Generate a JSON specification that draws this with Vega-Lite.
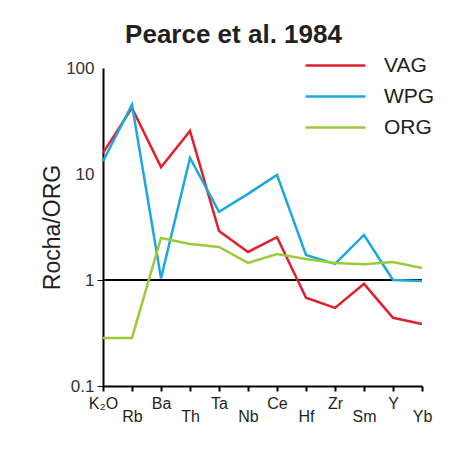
{
  "$schema": "https://vega.github.io/schema/vega-lite/v6.json",
  "width": 319,
  "height": 318,
  "autosize": "none",
  "padding": {"left": 103, "top": 68, "right": 39, "bottom": 63},
  "background": "white",
  "title": {"text": "Pearce et al. 1984", "font": "Liberation Sans", "fontSize": 26, "fontWeight": "bold", "color": "#231f20", "anchor": "middle", "frame": "group", "dx": -29, "offset": 26, "dy": 20},
  "config": {"view": {"stroke": null}, "font": "Liberation Sans"},
  "data": {"values": [
    {"el": "K2O", "g": "VAG", "v": 15.8}, {"el": "Rb", "g": "VAG", "v": 42}, {"el": "Ba", "g": "VAG", "v": 11.6}, {"el": "Th", "g": "VAG", "v": 25.5}, {"el": "Ta", "g": "VAG", "v": 2.9}, {"el": "Nb", "g": "VAG", "v": 1.84}, {"el": "Ce", "g": "VAG", "v": 2.54}, {"el": "Hf", "g": "VAG", "v": 0.68}, {"el": "Zr", "g": "VAG", "v": 0.545}, {"el": "Sm", "g": "VAG", "v": 0.92}, {"el": "Y", "g": "VAG", "v": 0.44}, {"el": "Yb", "g": "VAG", "v": 0.385},
    {"el": "K2O", "g": "WPG", "v": 13.2}, {"el": "Rb", "g": "WPG", "v": 45}, {"el": "Ba", "g": "WPG", "v": 1.04}, {"el": "Th", "g": "WPG", "v": 14.2}, {"el": "Ta", "g": "WPG", "v": 4.4}, {"el": "Nb", "g": "WPG", "v": 6.5}, {"el": "Ce", "g": "WPG", "v": 9.8}, {"el": "Hf", "g": "WPG", "v": 1.72}, {"el": "Zr", "g": "WPG", "v": 1.42}, {"el": "Sm", "g": "WPG", "v": 2.66}, {"el": "Y", "g": "WPG", "v": 1.0}, {"el": "Yb", "g": "WPG", "v": 0.98},
    {"el": "K2O", "g": "ORG", "v": 0.284}, {"el": "Rb", "g": "ORG", "v": 0.284}, {"el": "Ba", "g": "ORG", "v": 2.49}, {"el": "Th", "g": "ORG", "v": 2.19}, {"el": "Ta", "g": "ORG", "v": 2.05}, {"el": "Nb", "g": "ORG", "v": 1.45}, {"el": "Ce", "g": "ORG", "v": 1.76}, {"el": "Hf", "g": "ORG", "v": 1.58}, {"el": "Zr", "g": "ORG", "v": 1.45}, {"el": "Sm", "g": "ORG", "v": 1.41}, {"el": "Y", "g": "ORG", "v": 1.48}, {"el": "Yb", "g": "ORG", "v": 1.3}
  ]},
  "layer": [
    {
      "mark": {"type": "rule", "color": "black", "strokeWidth": 1},
      "encoding": {"y": {"datum": 1, "type": "quantitative"}}
    },
    {
      "mark": {"type": "line", "strokeWidth": 2.5},
      "encoding": {
        "x": {
          "field": "el", "type": "ordinal",
          "sort": ["K2O", "Rb", "Ba", "Th", "Ta", "Nb", "Ce", "Hf", "Zr", "Sm", "Y", "Yb"],
          "scale": {"type": "point", "padding": 0},
          "axis": {
            "title": null, "labelAngle": 0, "domainColor": "black", "domainWidth": 2,
            "tickColor": "black", "tickWidth": 2, "tickSize": 5,
            "labelFont": "Liberation Sans", "labelFontSize": 16, "labelColor": "#231f20",
            "labelPadding": {"expr": "indexof(['Rb','Th','Nb','Hf','Sm','Yb'], datum.value) >= 0 ? 17 : 4"},
            "labelExpr": "datum.value == 'K2O' ? 'K₂O' : datum.value"
          }
        },
        "y": {
          "field": "v", "type": "quantitative",
          "scale": {"type": "log", "domain": [0.1, 100], "nice": false},
          "axis": {
            "title": "Rocha/ORG", "titleFont": "Liberation Sans", "titleFontSize": 23, "titleFontWeight": "normal", "titleColor": "#231f20", "titlePadding": 1,
            "values": [0.1, 1, 10, 100], "labelExpr": "datum.value == 0.1 ? '0.1' : format(datum.value, 'd')",
            "grid": false, "domainColor": "black", "domainWidth": 2,
            "tickColor": "black", "tickWidth": 1, "tickSize": 6,
            "tickOpacity": {"expr": "datum.value <= 1 ? 1 : 0"},
            "labelFont": "Liberation Sans", "labelFontSize": 17, "labelColor": "#333333", "labelPadding": 3
          }
        },
        "color": {
          "field": "g", "type": "nominal",
          "scale": {"domain": ["VAG", "WPG", "ORG"], "range": ["#e31e2d", "#1ba8de", "#9dc93b"]},
          "legend": {
            "title": null, "orient": "none", "legendX": 221, "legendY": -14, "padding": 0,
            "symbolType": "M-3,0H3", "symbolSize": 400, "symbolStrokeWidth": 2.5,
            "labelFont": "Liberation Sans", "labelFontSize": 21, "labelColor": "#231f20", "labelOffset": 37,
            "rowPadding": 9
          }
        }
      }
    }
  ]
}
